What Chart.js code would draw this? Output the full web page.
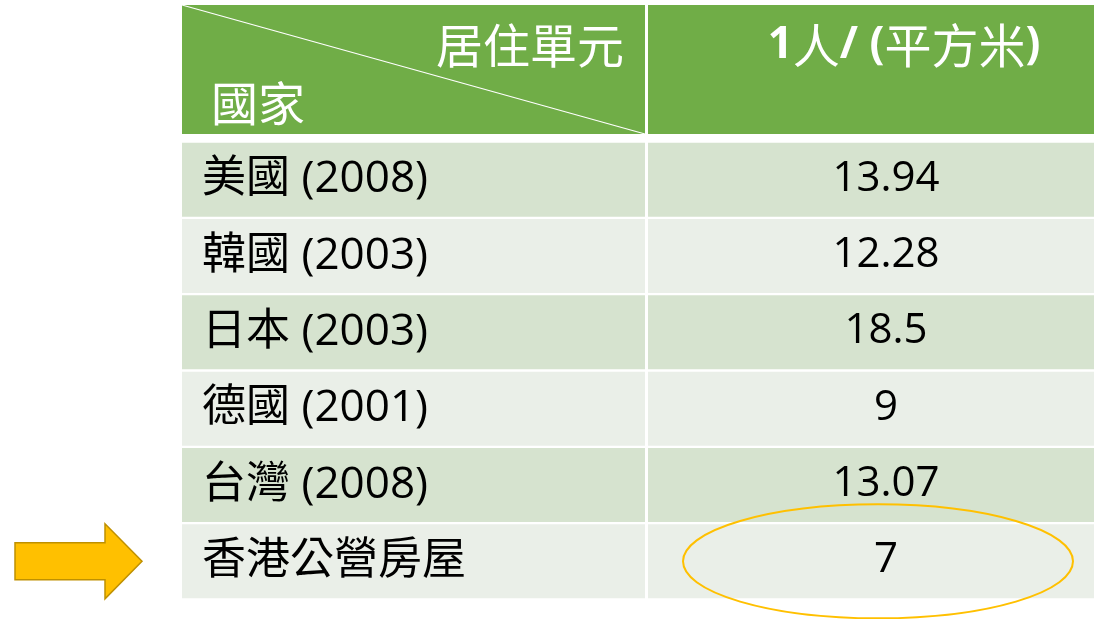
<!DOCTYPE html>
<html>
<head>
<meta charset="utf-8">
<script src="https://cdn.jsdelivr.net/npm/chart.js@4/dist/chart.umd.min.js"></script>
<style>
    body { margin: 0; background: #fff; }
    #wrap { width: 1094px; height: 619px; position: relative; }
</style>
</head>
<body>
<div id="wrap"><canvas id="myChart"></canvas></div>
<script>
// table content
const countries = ['美國 (2008)', '韓國 (2003)', '日本 (2003)', '德國 (2001)', '台灣 (2008)', '香港公營房屋'];
const areaPerPerson = [13.94, 12.28, 18.5, 9, 13.07, 7];
const cornerTop = '居住單元';
const cornerBottom = '國家';
const valueHeader = '1人/ (平方米)';
const highlightRow = 5;

// layout (x scale units are pixels from the table's left edge)
const cols = { first: [0, 463], second: [466, 942] };
const headerHeight = 129;
const headerGap = 7.5;
const rowColors = ['#D6E3CF', '#EAEFE8'];

const LATIN = "'Open Sans', 'Noto Sans CJK TC', sans-serif";
const CJK = "'Noto Sans CJK TC', sans-serif";

function drawRuns(ctx, runs, x, y) {
    runs.forEach(r => {
        ctx.font = r.font;
        ctx.fillText(r.text, x, y);
        x += ctx.measureText(r.text).width;
    });
}

const tablePlugin = {
    id: 'tableDecor',
    afterDraw(chart) {
        const ctx = chart.ctx;
        const xs = chart.scales.x;
        const area = chart.chartArea;
        const left = xs.getPixelForValue(cols.first[0]);
        const c1r = xs.getPixelForValue(cols.first[1]);
        const c2l = xs.getPixelForValue(cols.second[0]);
        const c2r = xs.getPixelForValue(cols.second[1]);
        const bottom = area.top - headerGap;
        const top = bottom - headerHeight;

        ctx.save();
        // header cells
        ctx.fillStyle = '#70AD47';
        ctx.fillRect(left, top, c1r - left, headerHeight);
        ctx.fillRect(c2l, top, c2r - c2l, headerHeight);
        ctx.strokeStyle = '#fff';
        ctx.lineWidth = 1.2;
        ctx.beginPath();
        ctx.moveTo(left, top);
        ctx.lineTo(c1r, bottom);
        ctx.stroke();

        ctx.fillStyle = '#fff';
        ctx.textBaseline = 'middle';
        ctx.font = '47px ' + CJK;
        ctx.textAlign = 'right';
        ctx.fillText(cornerTop, c1r - 21, top + 40);
        ctx.textAlign = 'left';
        ctx.fillText(cornerBottom, left + 29, top + 98);

        const runs = valueHeader.match(/[\u3000-\u9fff]+|[^\u3000-\u9fff]+/g).map(t => ({
            text: t,
            font: /[\u3000-\u9fff]/.test(t) ? '47px ' + CJK : 'bold 44px ' + LATIN
        }));
        let w = 0;
        runs.forEach(r => { ctx.font = r.font; w += ctx.measureText(r.text).width; });
        drawRuns(ctx, runs, (c2l + c2r) / 2 + 18 - w / 2, top + 40);

        // values in second column
        const meta = chart.getDatasetMeta(1);
        ctx.fillStyle = '#000';
        ctx.textAlign = 'center';
        ctx.font = '42px ' + LATIN;
        meta.data.forEach((bar, i) => {
            const cx = (bar.x + bar.base) / 2;
            ctx.fillText(String(areaPerPerson[i]), cx, bar.y - 1);
        });

        // highlight: ellipse around the value, arrow pointing at the row
        const hb = meta.data[highlightRow];
        const hx = (hb.x + hb.base) / 2 - 8;
        ctx.strokeStyle = '#FFC000';
        ctx.lineWidth = 2;
        ctx.beginPath();
        ctx.ellipse(hx, hb.y, 195, 57, 0, 0, Math.PI * 2);
        ctx.stroke();

        const ay = hb.y;
        ctx.beginPath();
        ctx.moveTo(left - 167, ay - 18.5);
        ctx.lineTo(left - 77, ay - 18.5);
        ctx.lineTo(left - 77, ay - 37.5);
        ctx.lineTo(left - 40, ay);
        ctx.lineTo(left - 77, ay + 37.5);
        ctx.lineTo(left - 77, ay + 18.5);
        ctx.lineTo(left - 167, ay + 18.5);
        ctx.closePath();
        ctx.fillStyle = '#FFC000';
        ctx.fill();
        ctx.strokeStyle = '#BF9000';
        ctx.lineWidth = 1.5;
        ctx.stroke();
        ctx.restore();
    }
};

document.addEventListener('DOMContentLoaded', () => {
    const ctx = document.getElementById('myChart').getContext('2d');
    const colors = countries.map((c, i) => rowColors[i % 2]);
    new Chart(ctx, {
        type: 'bar',
        data: {
            labels: countries,
            datasets: [
                { label: 'country', data: countries.map(() => cols.first), backgroundColor: colors },
                { label: 'value', data: countries.map(() => cols.second), backgroundColor: colors }
            ]
        },
        options: {
            indexAxis: 'y',
            responsive: true,
            maintainAspectRatio: false,
            animation: false,
            events: [],
            grouped: false,
            barPercentage: 0.97,
            categoryPercentage: 1,
            layout: { padding: { left: 182, top: 141.5, right: 0, bottom: 19.5 } },
            plugins: { legend: { display: false }, tooltip: { enabled: false } },
            scales: {
                x: { type: 'linear', min: 0, max: 912, display: false },
                y: {
                    grid: { display: false },
                    border: { display: false },
                    afterFit: s => { s.width = 0; s.paddingTop = 0; s.paddingBottom = 0; },
                    ticks: {
                        mirror: true,
                        padding: 20,
                        z: 1,
                        color: '#000',
                        font: { family: LATIN, size: 44 }
                    }
                }
            }
        },
        plugins: [tablePlugin]
    });
});
</script>
</body>
</html>
